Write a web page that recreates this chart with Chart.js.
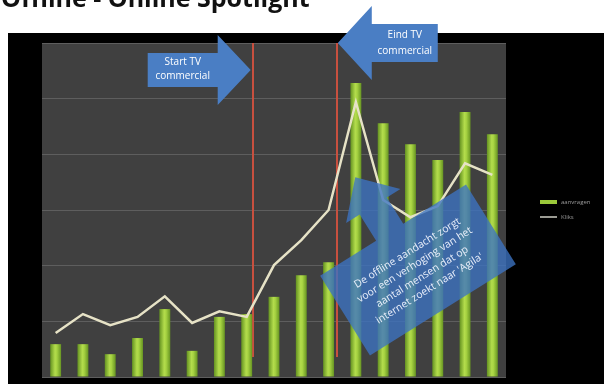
<!DOCTYPE html>
<html>
<head>
<meta charset="utf-8">
<script src="https://cdn.jsdelivr.net/npm/chart.js@4"></script>
<style>
  html, body { margin: 0; padding: 0; background: #fff; }
  #wrap { width: 604px; height: 384px; }
</style>
</head>
<body>
<div id="wrap"><canvas id="chart" width="604" height="384"></canvas></div>
<script>
// weeks (no labels shown on the axis)
const categories = ["1", "2", "3", "4", "5", "6", "7", "8", "9", "10", "11", "12", "13", "14", "15", "16", "17"];
const aanvragen = [0.59, 0.59, 0.41, 0.70, 1.22, 0.47, 1.08, 1.13, 1.44, 1.83, 2.06, 5.28, 4.56, 4.18, 3.90, 4.76, 4.36];
const kliks = [0.79, 1.13, 0.93, 1.08, 1.45, 0.97, 1.18, 1.08, 2.01, 2.46, 3.00, 4.94, 3.18, 2.87, 3.07, 3.84, 3.63];
const yTicks = [0, 1, 2, 3, 4, 5, 6];
// start / end of the TV commercial, in category units
const tvStart = 7.22;
const tvEnd = 10.3;

const titleText = "Offline - Online Spotlight";
const calloutLines = [
  "De offline aandacht zorgt",
  "voor een verhoging van het",
  "aantal mensen dat op",
  "internet zoekt naar 'Agila'"
];

function catPixel(scale, v) {
  const i = Math.floor(v);
  const a = scale.getPixelForValue(i);
  const b = scale.getPixelForValue(i + 1);
  return a + (b - a) * (v - i);
}

function drawArrow(ctx, dir, tipX, tipY, bodyLen, bodyH, headLen, headH) {
  // dir = 1 points right, -1 points left
  const baseX = tipX - dir * headLen;
  const endX = baseX - dir * bodyLen;
  ctx.beginPath();
  ctx.moveTo(tipX, tipY);
  ctx.lineTo(baseX, tipY - headH / 2);
  ctx.lineTo(baseX, tipY - bodyH / 2);
  ctx.lineTo(endX, tipY - bodyH / 2);
  ctx.lineTo(endX, tipY + bodyH / 2);
  ctx.lineTo(baseX, tipY + bodyH / 2);
  ctx.lineTo(baseX, tipY + headH / 2);
  ctx.closePath();
  ctx.fillStyle = "#4a7ec4";
  ctx.fill();
  return (baseX + endX) / 2;
}

const decor = {
  id: "decor",
  beforeDraw(chart) {
    const { ctx, chartArea: a } = chart;
    ctx.save();
    ctx.fillStyle = "#fff";
    ctx.fillRect(0, 0, chart.width, chart.height);
    ctx.fillStyle = "#000";
    ctx.fillRect(8, 33, chart.width - 8, chart.height - 33);
    ctx.fillStyle = "#404040";
    ctx.fillRect(a.left, a.top, a.right - a.left, a.bottom - a.top);
    // title, cut off at the top like the source slide
    ctx.fillStyle = "#111";
    ctx.font = "bold 25px 'Open Sans', sans-serif";
    ctx.textBaseline = "alphabetic";
    ctx.fillText(titleText, 1, 7);
    ctx.restore();
  },
  beforeDatasetsDraw(chart) {
    const { ctx, chartArea: a, scales } = chart;
    ctx.save();
    ctx.strokeStyle = "#c8503f";
    ctx.lineWidth = 2;
    [tvStart, tvEnd].forEach((v) => {
      const x = Math.round(catPixel(scales.x, v));
      ctx.beginPath();
      ctx.moveTo(x, a.top);
      ctx.lineTo(x, scales.y.getPixelForValue(0.36));
      ctx.stroke();
    });
    ctx.restore();
  },
  afterDatasetsDraw(chart) {
    const { ctx, chartArea: a, scales } = chart;
    ctx.save();
    ctx.textAlign = "center";
    ctx.textBaseline = "middle";

    // Start TV commercial arrow
    const xs = catPixel(scales.x, tvStart) - 2;
    let cx = drawArrow(ctx, 1, xs, 70, 70, 34, 33, 70);
    ctx.fillStyle = "#fff";
    ctx.font = "10px 'Open Sans', sans-serif";
    ctx.fillText("Start TV", cx, 62);
    ctx.fillText("commercial", cx, 76);

    // Eind TV commercial arrow
    const xe = catPixel(scales.x, tvEnd) + 1;
    cx = drawArrow(ctx, -1, xe, a.top, 66, 38, 34, 74);
    ctx.fillStyle = "#fff";
    ctx.fillText("Eind TV", cx, a.top - 8);
    ctx.fillText("commercial", cx, a.top + 8);

    // callout pointing at the peak
    ctx.translate(418, 270);
    ctx.rotate(-32 * Math.PI / 180);
    const w = 172, h = 94;
    ctx.beginPath();
    ctx.moveTo(-w / 2, -h / 2);
    ctx.lineTo(-20, -h / 2);
    ctx.lineTo(-20, -78);
    ctx.lineTo(-36, -78);
    ctx.lineTo(-4, -112);
    ctx.lineTo(28, -78);
    ctx.lineTo(12, -78);
    ctx.lineTo(12, -h / 2);
    ctx.lineTo(w / 2, -h / 2);
    ctx.lineTo(w / 2, h / 2);
    ctx.lineTo(-w / 2, h / 2);
    ctx.closePath();
    ctx.fillStyle = "rgba(60, 115, 195, 0.78)";
    ctx.fill();
    ctx.fillStyle = "#e8eefa";
    ctx.font = "10.5px 'Open Sans', sans-serif";
    calloutLines.forEach((t, i) => {
      ctx.fillText(t, 0, -20 + i * 14);
    });
    ctx.restore();
  },
  afterDraw(chart) {
    const { ctx } = chart;
    ctx.save();
    // legend
    ctx.fillStyle = "#9bc93a";
    ctx.fillRect(540, 200, 17, 4);
    ctx.strokeStyle = "#cfcfc4";
    ctx.lineWidth = 1.5;
    ctx.beginPath();
    ctx.moveTo(540, 217);
    ctx.lineTo(557, 217);
    ctx.stroke();
    ctx.fillStyle = "#9a9a9a";
    ctx.font = "6px 'Open Sans', sans-serif";
    ctx.textBaseline = "middle";
    ctx.fillText("aanvragen", 561, 202);
    ctx.fillText("Kliks", 561, 217);
    ctx.restore();
  }
};

function barGradient(context) {
  const chart = context.chart;
  const x = chart.scales.x;
  if (!x || x.left === undefined) return "#8dc63f";
  const cx = x.getPixelForValue(context.dataIndex);
  const half = 6;
  const g = chart.ctx.createLinearGradient(cx - half, 0, cx + half, 0);
  g.addColorStop(0, "#5b8a1c");
  g.addColorStop(0.45, "#b3dc4c");
  g.addColorStop(0.6, "#a7d342");
  g.addColorStop(1, "#5e8c1e");
  return g;
}

new Chart(document.getElementById("chart"), {
  type: "bar",
  data: {
    labels: categories,
    datasets: [
      {
        type: "line",
        label: "Kliks",
        data: kliks,
        borderColor: "#e6e2c6",
        borderWidth: 2.5,
        pointRadius: 0,
        tension: 0,
        order: 1
      },
      {
        label: "aanvragen",
        data: aanvragen,
        backgroundColor: barGradient,
        barPercentage: 0.4,
        categoryPercentage: 1,
        order: 2
      }
    ]
  },
  options: {
    responsive: false,
    animation: false,
    layout: { padding: { left: 42, top: 43, right: 98, bottom: 7 } },
    plugins: {
      legend: { display: false },
      title: { display: false },
      tooltip: { enabled: false }
    },
    scales: {
      x: {
        display: false
      },
      y: {
        min: yTicks[0],
        max: yTicks[yTicks.length - 1],
        afterBuildTicks: (axis) => { axis.ticks = yTicks.map((v) => ({ value: v })); },
        grid: { color: "#5e5e5e", lineWidth: 1, drawTicks: false },
        border: { display: false },
        ticks: { display: false }
      }
    }
  },
  plugins: [decor]
});
</script>
</body>
</html>
